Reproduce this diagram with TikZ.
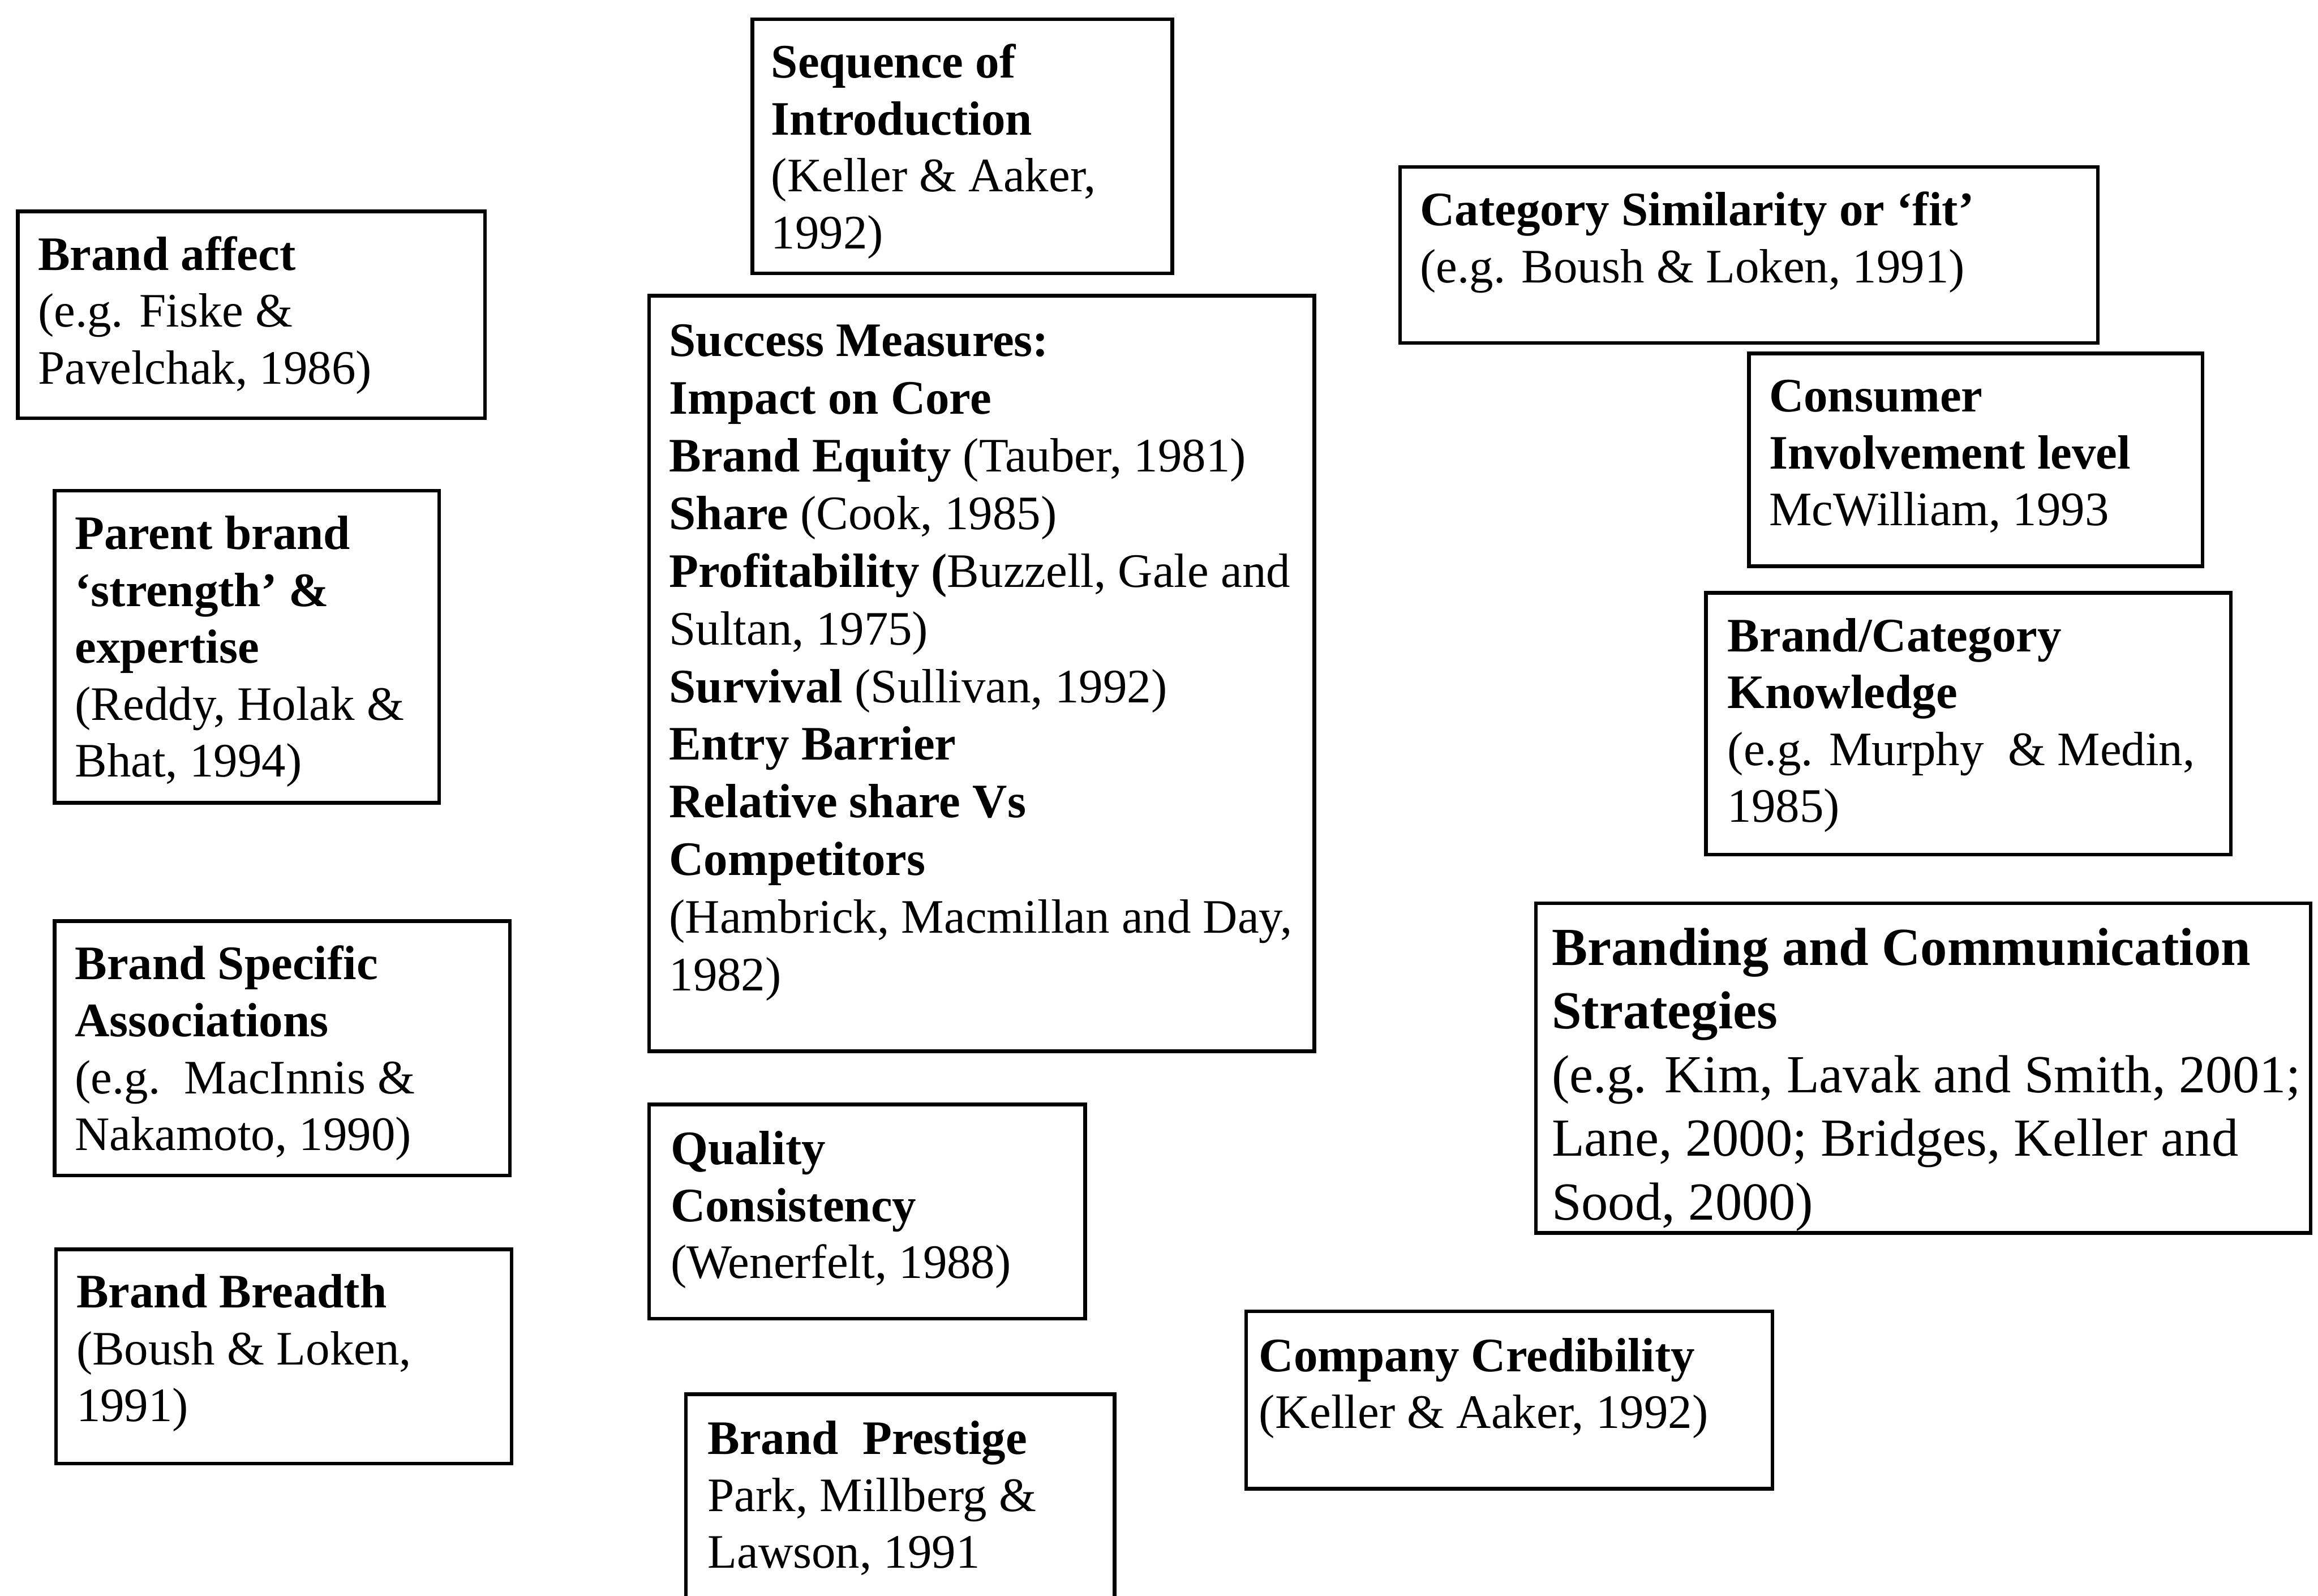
\documentclass[tikz,border=0pt]{standalone}
\usepackage{fontspec}
\setmainfont{Liberation Serif}
\usetikzlibrary{fit}
\begin{document}
\begin{tikzpicture}[x=0.1mm,y=-0.1mm,
  box/.style={draw=black, line width=0.7pt, inner sep=0pt},
  txt/.style={anchor=north west, inner sep=0pt, align=left,
    font=\fontsize{9.25pt}{10.95pt}\selectfont},
  bigtxt/.style={txt, font=\fontsize{10.3pt}{12.25pt}\selectfont}]
\useasboundingbox[fill=white] (0,0) rectangle (1568,1079.5);

% left column
\node[box, fit={(12,143) (328,283)}] (affect) {};
\node[txt] (affecttext) at (25,155) {\strut\textbf{Brand affect}\\(e.g. Fiske \&\\Pavelchak, 1986)};

\node[box, fit={(37,332) (297,543)}] (parent) {};
\node[txt] (parenttext) at (50,344) {\strut\textbf{Parent brand}\\\textbf{‘strength’ \&}\\\textbf{expertise}\\(Reddy, Holak \&\\Bhat, 1994)};

\node[box, fit={(37,623) (345,795)}] (specific) {};
\node[txt] (specifictext) at (50,635) {\strut\textbf{Brand Specific}\\\textbf{Associations}\\(e.g.\ \ MacInnis \&\\Nakamoto, 1990)};

\node[box, fit={(38,845) (346,990)}] (breadth) {};
\node[txt] (breadthtext) at (51,857) {\strut\textbf{Brand Breadth}\\(Boush \& Loken,\\1991)};

% middle column
\node[box, fit={(509,13) (793,185)}] (sequence) {};
\node[txt] (sequencetext) at (521,25) {\strut\textbf{Sequence of}\\\textbf{Introduction}\\(Keller \& Aaker,\\1992)};

\node[box, fit={(439,200) (889,711)}] (success) {};
\node[txt, font=\fontsize{9.25pt}{11.1pt}\selectfont] (successtext) at (452,213) {\strut\textbf{Success Measures:}\\
\textbf{Impact on Core}\\
\textbf{Brand Equity} (Tauber, 1981)\\
\textbf{Share} (Cook, 1985)\\
\textbf{Profitability (}Buzzell, Gale and\\
Sultan, 1975)\\
\textbf{Survival} (Sullivan, 1992)\\
\textbf{Entry Barrier}\\
\textbf{Relative share Vs}\\
\textbf{Competitors}\\
(Hambrick, Macmillan and Day,\\
1982)};

\node[box, fit={(439,747) (734,892)}] (quality) {};
\node[txt] (qualitytext) at (453,760) {\strut\textbf{Quality}\\\textbf{Consistency}\\(Wenerfelt, 1988)};

\node[box, fit={(464,943) (754,1095)}] (prestige) {};
\node[txt] (prestigetext) at (478,956) {\strut\textbf{Brand\ \ Prestige}\\Park, Millberg \&\\Lawson, 1991};

% right column
\node[box, fit={(947,113) (1419,232)}] (category) {};
\node[txt] (categorytext) at (960,125) {\strut\textbf{Category Similarity or ‘fit’}\\(e.g. Boush \& Loken, 1991)};

\node[box, fit={(1183,239) (1490,383)}] (involvement) {};
\node[txt] (involvementtext) at (1196,251) {\strut\textbf{Consumer}\\\textbf{Involvement level}\\McWilliam, 1993};

\node[box, fit={(1154,401) (1509,578)}] (knowledge) {};
\node[txt] (knowledgetext) at (1168,413) {\strut\textbf{Brand/Category}\\\textbf{Knowledge}\\(e.g. Murphy\ \ \& Medin,\\1985)};

\node[box, fit={(1039,611) (1563,834)}] (branding) {};
\node[bigtxt] (brandingtext) at (1049,622) {\strut\textbf{Branding and Communication}\\\textbf{Strategies}\\(e.g. Kim, Lavak and Smith, 2001;\\Lane, 2000; Bridges, Keller and\\Sood, 2000)};

\node[box, fit={(843,887) (1199,1007)}] (credibility) {};
\node[txt] (credibilitytext) at (851,900) {\strut\textbf{Company Credibility}\\(Keller \& Aaker, 1992)};
\end{tikzpicture}
\end{document}
